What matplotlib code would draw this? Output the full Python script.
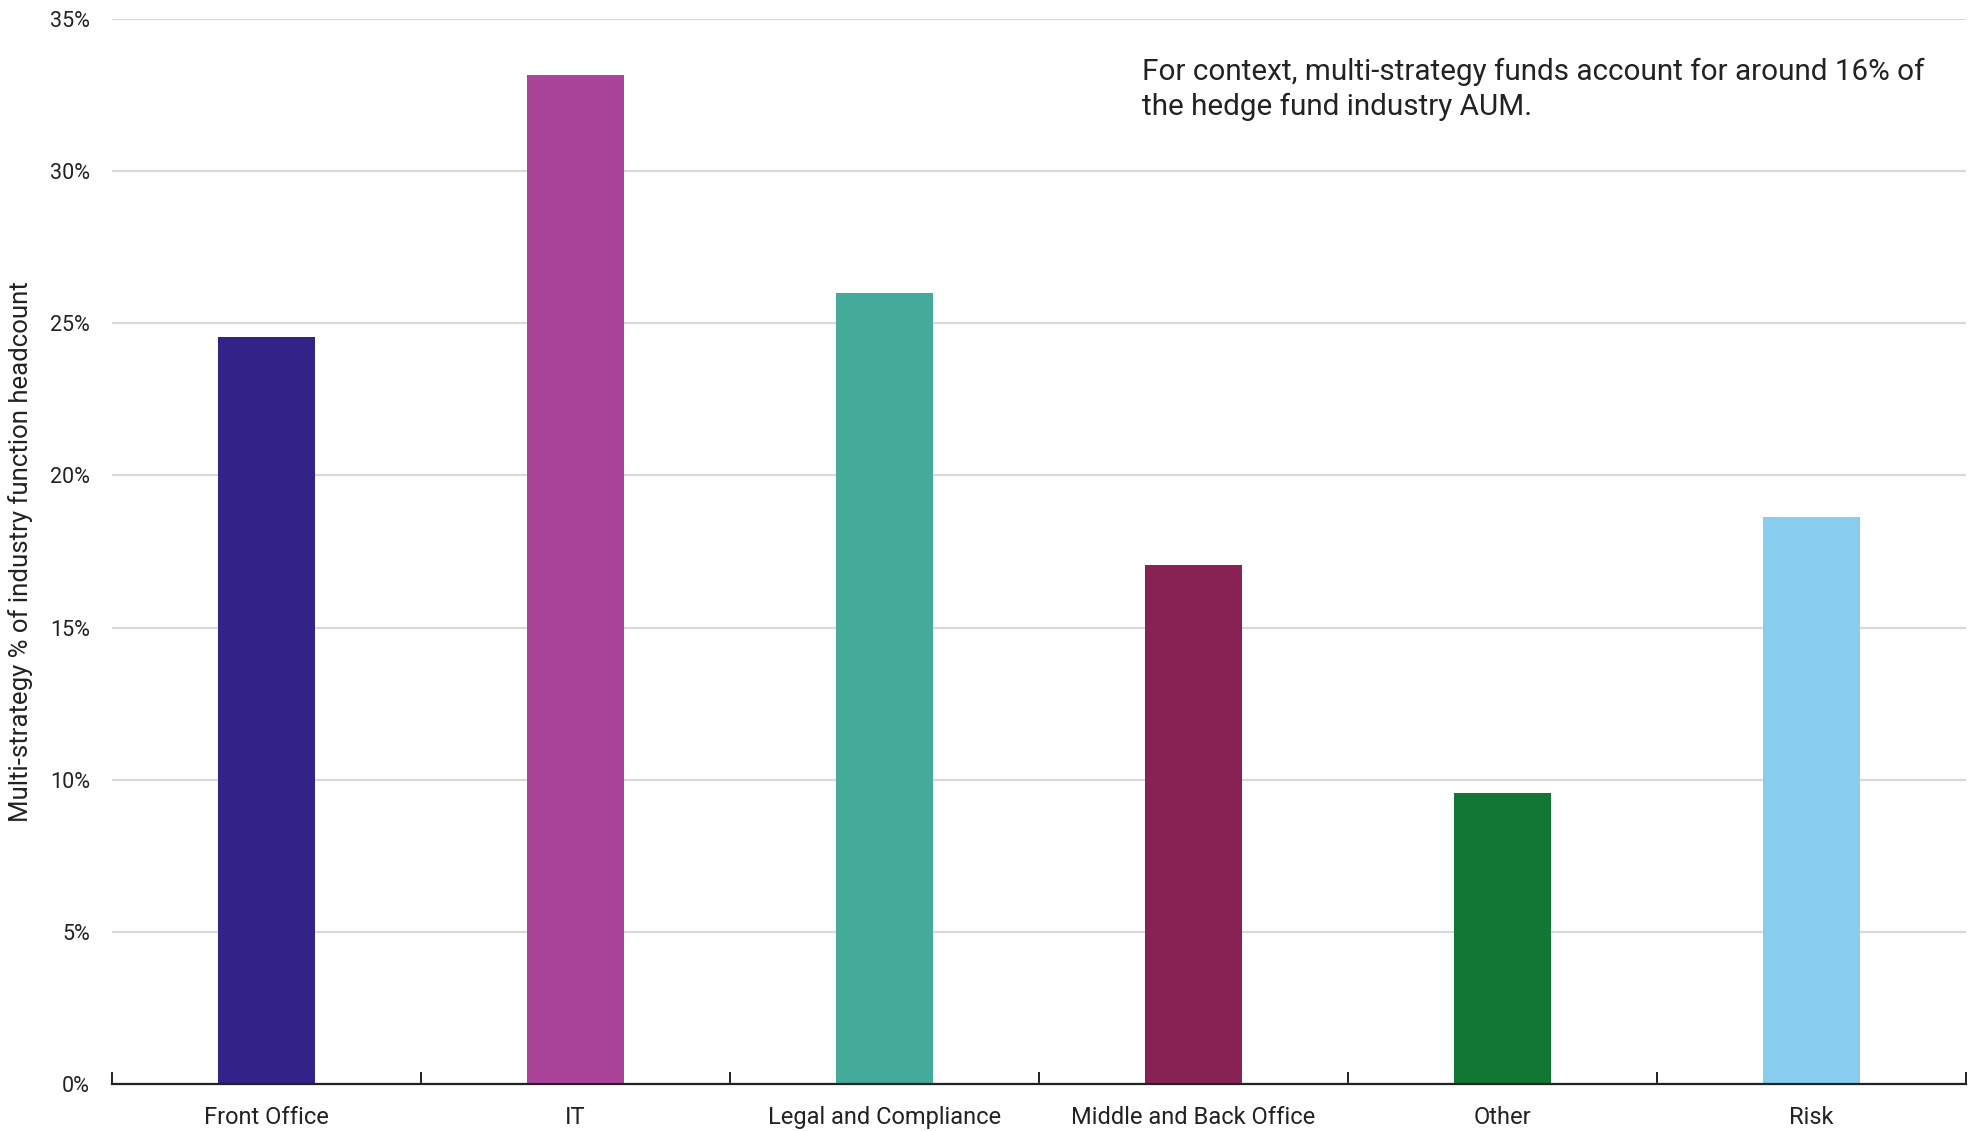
import matplotlib.pyplot as plt
import numpy as np
from matplotlib.ticker import FuncFormatter, FixedLocator

categories = ["Front Office", "IT", "Legal and Compliance", "Middle and Back Office", "Other", "Risk"]
values = [24.55, 33.15, 26.0, 17.05, 9.55, 18.62]
colors = ["#332288", "#AA4499", "#44AA99", "#882255", "#117733", "#88CCEE"]
yticks = [0, 5, 10, 15, 20, 25, 30, 35]

note = "For context, multi-strategy funds account for around 16% of\nthe hedge fund industry AUM."


def main():
    plt.rcParams['font.family'] = ['Roboto', 'DejaVu Sans']
    fig = plt.figure(figsize=(19.73, 11.31), dpi=100)
    ax = fig.add_axes([0.0568, 0.0416, 0.9397, 0.9416])

    x = np.arange(len(categories))
    ax.bar(x, values, width=0.313, color=colors, zorder=3)

    ax.set_xlim(-0.5, len(categories) - 0.5)
    ax.set_ylim(0, 35)
    ax.set_yticks(yticks)
    ax.yaxis.set_major_formatter(FuncFormatter(lambda v, _: f"{v:.0f}%"))
    ax.grid(axis='y', color='#d9d9d9', linewidth=1.6, zorder=0)
    ax.tick_params(axis='y', length=0, pad=16, labelsize=15.5, labelcolor='#222222')

    ax.set_xticks(x)
    ax.set_xticklabels(categories)
    ax.tick_params(axis='x', which='major', length=0, pad=16, labelsize=17, labelcolor='#222222')
    ax.xaxis.set_minor_locator(FixedLocator(np.arange(-0.5, len(categories), 1.0)))
    ax.tick_params(axis='x', which='minor', direction='in', length=9, width=1.4, color='#222222')

    for side in ['top', 'right', 'left']:
        ax.spines[side].set_visible(False)
    ax.spines['bottom'].set_linewidth(1.6)
    ax.spines['bottom'].set_color('#222222')
    ax.spines['bottom'].set_zorder(4)

    ax.set_ylabel("Multi-strategy % of industry function headcount", fontsize=18.5, color='#222222', labelpad=12)

    fig.text(0.5788, 0.949, note, fontsize=21.3, color='#222222', va='top', ha='left', linespacing=1.3)

    fig.savefig("out.png", dpi=100)


if __name__ == "__main__":
    main()
